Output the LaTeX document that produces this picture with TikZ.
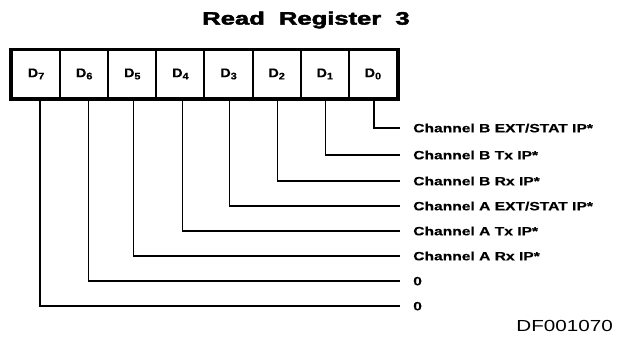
\documentclass[tikz,border=0pt]{standalone}
\usepackage{fontspec}
\usepackage{graphicx}
\setmainfont{Liberation Sans}
\newfontfamily\heavyfont[FakeBold=2.2]{Liberation Sans Bold}
\newfontfamily\boldfont[FakeBold=0.3]{Liberation Sans Bold}
\newcommand\bitname[1]{\scalebox{1.15}[1]{D\raisebox{-2.2pt}{\fontsize{9.5}{10}\selectfont#1}}}
\begin{document}
\begin{tikzpicture}[x=1pt,y=-1pt,
  cell/.style={draw,line width=2pt,minimum width=48.125pt,minimum height=48pt,
    inner sep=0pt,font=\boldfont\fontsize{12.5}{14}\selectfont},
  lbl/.style={anchor=west,inner sep=0pt,text height=8.6pt,text depth=0pt,
    xscale=1.3,font=\boldfont\fontsize{12}{14}\selectfont},
  lead/.style={line width=1.2pt},
  title/.style={inner sep=0pt,xscale=1.42,font=\heavyfont\fontsize{18}{20}\selectfont},
  code/.style={anchor=base east,inner sep=0pt,xscale=1.29,font=\fontsize{16}{18}\selectfont}]
\useasboundingbox (0,0) rectangle (630,338);

% title
\node[title] (t) at (306,20) {Read\ \ Register\ \ 3};

% register cells, D7 on the left
\foreach \i in {0,...,7}{
  \pgfmathsetmacro\cx{12+48.125*(7-\i)+24.06}
  \node[cell] (c\i) at (\cx,74) {\bitname{\i}};
}
\draw[line width=3pt] (c7.north west) rectangle (c0.south east);

% bit descriptions
\node[lbl] (l0) at (413,128) {Channel B EXT/STAT IP*};
\node[lbl] (l1) at (413,155) {Channel B Tx IP*};
\node[lbl] (l2) at (413,181) {Channel B Rx IP*};
\node[lbl] (l3) at (413,206) {Channel A EXT/STAT IP*};
\node[lbl] (l4) at (413,231) {Channel A Tx IP*};
\node[lbl] (l5) at (413,256) {Channel A Rx IP*};
\node[lbl] (l6) at (413,281) {0};
\node[lbl] (l7) at (413,306) {0};

% leader lines from each bit to its description
\foreach \i/\dx in {0/1,1/1,2/1,3/1,4/2,5/1,6/4,7/4}{
  \draw[lead] ([xshift=\dx pt]c\i.south) |- ([xshift=-13pt]l\i.west);
}

% figure code
\node[code] (df) at (613,331) {DF001070};
\end{tikzpicture}
\end{document}
